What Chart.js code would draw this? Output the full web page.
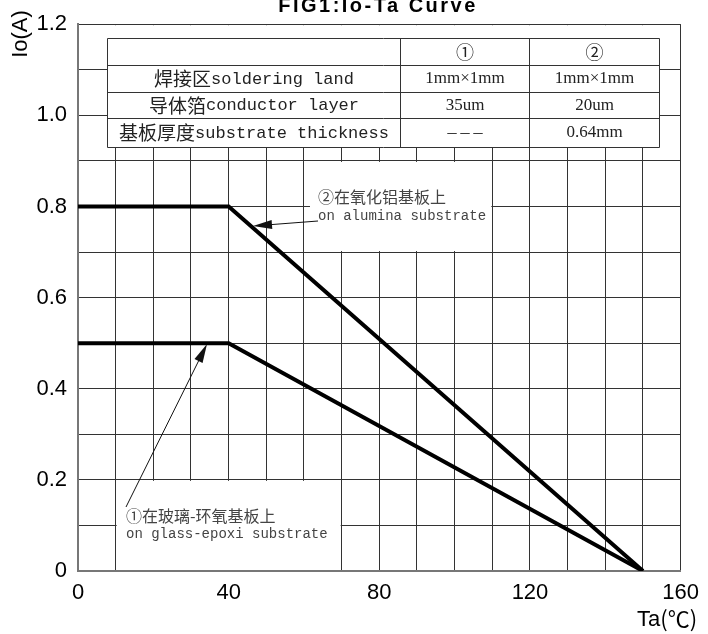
<!DOCTYPE html>
<html>
<head>
<meta charset="utf-8">
<script src="https://cdn.jsdelivr.net/npm/chart.js@4.4.1/dist/chart.umd.min.js"></script>
<style>
  html, body { margin: 0; padding: 0; background: #fff; }
  #wrap { width: 708px; height: 634px; }
</style>
</head>
<body>
<div id="wrap"><canvas id="chartIoTa" width="708" height="634"></canvas></div>
<script>
// Datos de la curva Io-Ta
const ta = [0, 40, 150];
const ioGlass = [0.5, 0.5, 0];     // ① vidrio-epoxi
const ioAlumina = [0.8, 0.8, 0];   // ② alúmina

const xTickValues = [0, 40, 80, 120, 160];
const xTickLabels = ['0', '40', '80', '120', '160'];
const yTickValues = [0, 0.2, 0.4, 0.6, 0.8, 1.0, 1.2];
const yTickLabels = ['0', '0.2', '0.4', '0.6', '0.8', '1.0', '1.2'];

// Tabla de condiciones
const tableHead = ['', '①', '②'];
const rowCjk = ['焊接区', '导体箔', '基板厚度'];
const rowLatin = ['soldering land', 'conductor layer', 'substrate thickness'];
const col1 = ['1mm×1mm', '35um', '－－－'];
const col2 = ['1mm×1mm', '20um', '0.64mm'];

const note1 = ['①在玻璃-环氧基板上', 'on glass-epoxi substrate'];
const note2 = ['②在氧化铝基板上', 'on alumina substrate'];

const CJK = '"Noto Sans CJK SC"';

function puntos(xs, ys) {
    return xs.map((x, i) => ({ x: x, y: ys[i] }));
}

// Texto centrado compuesto por varios tramos con distintas fuentes
function textoTramos(ctx, tramos, cx, cy) {
    let total = 0;
    tramos.forEach(t => { ctx.font = t[1]; total += ctx.measureText(t[0]).width; });
    let x = cx - total / 2;
    ctx.textAlign = 'left';
    ctx.textBaseline = 'middle';
    tramos.forEach(t => {
        ctx.font = t[1];
        ctx.fillText(t[0], x, cy);
        x += ctx.measureText(t[0]).width;
    });
}

function flecha(ctx, x1, y1, x2, y2) {
    const ang = Math.atan2(y2 - y1, x2 - x1);
    const len = 19, w = 4.5;
    ctx.beginPath();
    ctx.moveTo(x1, y1);
    ctx.lineTo(x2 - Math.cos(ang) * len * 0.8, y2 - Math.sin(ang) * len * 0.8);
    ctx.lineWidth = 1;
    ctx.strokeStyle = '#111';
    ctx.stroke();
    ctx.beginPath();
    ctx.moveTo(x2, y2);
    ctx.lineTo(x2 - Math.cos(ang) * len - Math.sin(ang) * w, y2 - Math.sin(ang) * len + Math.cos(ang) * w);
    ctx.lineTo(x2 - Math.cos(ang) * len + Math.sin(ang) * w, y2 - Math.sin(ang) * len - Math.cos(ang) * w);
    ctx.closePath();
    ctx.fillStyle = '#111';
    ctx.fill();
}

const overlay = {
    id: 'overlay',
    beforeDatasetsDraw(chart) {
        const ctx = chart.ctx;
        const xs = chart.scales.x, ys = chart.scales.y;
        const a = chart.chartArea;
        ctx.save();

        // Recuadros blancos sobre la cuadrícula
        ctx.fillStyle = '#fff';
        ctx.fillRect(107, a.top + 1, 552, 147 - a.top - 1);
        ctx.fillRect(xs.getPixelForValue(10) + 1, ys.getPixelForValue(0.2) + 1,
            xs.getPixelForValue(70) - xs.getPixelForValue(10) - 2, ys.getPixelForValue(0) - ys.getPixelForValue(0.2) - 2);
        ctx.fillRect(310, ys.getPixelForValue(0.9) + 1,
            xs.getPixelForValue(110) - 1 - 310, ys.getPixelForValue(0.7) - ys.getPixelForValue(0.9) - 2);

        // Tabla
        const cx = [107.5, 400.5, 529.5, 659.5];
        const ry = [38.5, 65.5, 92.5, 118.5, 147.5];
        ctx.strokeStyle = '#333';
        ctx.lineWidth = 1;
        ctx.beginPath();
        ry.forEach(y => { ctx.moveTo(cx[0], y); ctx.lineTo(cx[3], y); });
        cx.forEach(x => { ctx.moveTo(x, ry[0]); ctx.lineTo(x, ry[4]); });
        ctx.stroke();

        ctx.fillStyle = '#222';
        const mid = i => (ry[i] + ry[i + 1]) / 2;
        textoTramos(ctx, [[tableHead[1], '18px ' + CJK]], (cx[1] + cx[2]) / 2, mid(0));
        textoTramos(ctx, [[tableHead[2], '18px ' + CJK]], (cx[2] + cx[3]) / 2, mid(0));
        for (let i = 0; i < 3; i++) {
            textoTramos(ctx, [[rowCjk[i], '19px ' + CJK], [rowLatin[i], '17px "Liberation Mono"']],
                (cx[0] + cx[1]) / 2, mid(i + 1));
            const f1 = col1[i].startsWith('－') ? '13px ' + CJK : '17px "Liberation Serif"';
            textoTramos(ctx, [[col1[i], f1]], (cx[1] + cx[2]) / 2, mid(i + 1));
            textoTramos(ctx, [[col2[i], '17px "Liberation Serif"']], (cx[2] + cx[3]) / 2, mid(i + 1));
        }

        // Notas
        ctx.fillStyle = '#444';
        ctx.textAlign = 'left';
        ctx.textBaseline = 'middle';
        ctx.font = '16px ' + CJK;
        ctx.fillText(note2[0], 318, 197);
        ctx.fillText(note1[0], 126, 516);
        ctx.font = '14px "Liberation Mono"';
        ctx.fillText(note2[1], 318, 216);
        ctx.fillText(note1[1], 126, 534);

        flecha(ctx, 318, 221, 253, 226);
        flecha(ctx, 126, 507, 207, 344);

        ctx.restore();
    },
    afterDraw(chart) {
        const ctx = chart.ctx;
        ctx.save();
        ctx.fillStyle = '#000';
        // Título
        ctx.font = 'bold 20px "Liberation Sans"';
        ctx.letterSpacing = '2.5px';
        ctx.textAlign = 'center';
        ctx.textBaseline = 'alphabetic';
        ctx.fillText('FIG1:Io-Ta Curve', 378, 12);
        ctx.letterSpacing = '0px';
        // Ejes
        ctx.font = '22px "Liberation Sans"';
        ctx.textBaseline = 'middle';
        ctx.save();
        ctx.translate(21, 34);
        ctx.rotate(-Math.PI / 2);
        ctx.fillText('Io(A)', 0, 0);
        ctx.restore();
        ctx.textAlign = 'left';
        ctx.fillText('Ta', 637, 620);
        const w = ctx.measureText('Ta').width;
        ctx.font = '22px ' + CJK;
        ctx.fillText('(℃)', 637 + w, 619);
        ctx.restore();
    }
};

const ctx = document.getElementById('chartIoTa').getContext('2d');
window.graficaIoTa = new Chart(ctx, {
    type: 'line',
    data: {
        datasets: [{
            label: '①',
            data: puntos(ta, ioGlass),
            borderColor: '#000',
            borderWidth: 4,
            pointRadius: 0,
            tension: 0
        }, {
            label: '②',
            data: puntos(ta, ioAlumina),
            borderColor: '#000',
            borderWidth: 4,
            pointRadius: 0,
            tension: 0
        }]
    },
    options: {
        responsive: false,
        animation: false,
        layout: { padding: { top: 22, right: 27, left: 0, bottom: 0 } },
        scales: {
            x: {
                type: 'linear',
                min: 0,
                max: 160,
                afterFit: s => { s.height = 63; },
                grid: { color: '#333', lineWidth: 1, drawTicks: false },
                border: { color: '#777', width: 2 },
                ticks: {
                    stepSize: 10,
                    autoSkip: false,
                    maxRotation: 0,
                    padding: 9,
                    color: '#000',
                    font: { family: '"Liberation Sans"', size: 22 },
                    callback: function (value) {
                        const i = xTickValues.indexOf(Math.round(value));
                        return i >= 0 ? xTickLabels[i] : '';
                    }
                }
            },
            y: {
                min: 0,
                max: 1.2,
                afterFit: s => { s.width = 78; },
                grid: { color: '#333', lineWidth: 1, drawTicks: false },
                border: { color: '#777', width: 2 },
                ticks: {
                    stepSize: 0.1,
                    autoSkip: false,
                    padding: 11,
                    color: '#000',
                    font: { family: '"Liberation Sans"', size: 22 },
                    callback: function (value) {
                        const v = Math.round(value * 10) / 10;
                        const i = yTickValues.findIndex(t => Math.abs(t - v) < 1e-6);
                        return i >= 0 ? yTickLabels[i] : '';
                    }
                }
            }
        },
        plugins: {
            legend: { display: false },
            tooltip: { enabled: false }
        }
    },
    plugins: [overlay]
});
</script>
</body>
</html>
